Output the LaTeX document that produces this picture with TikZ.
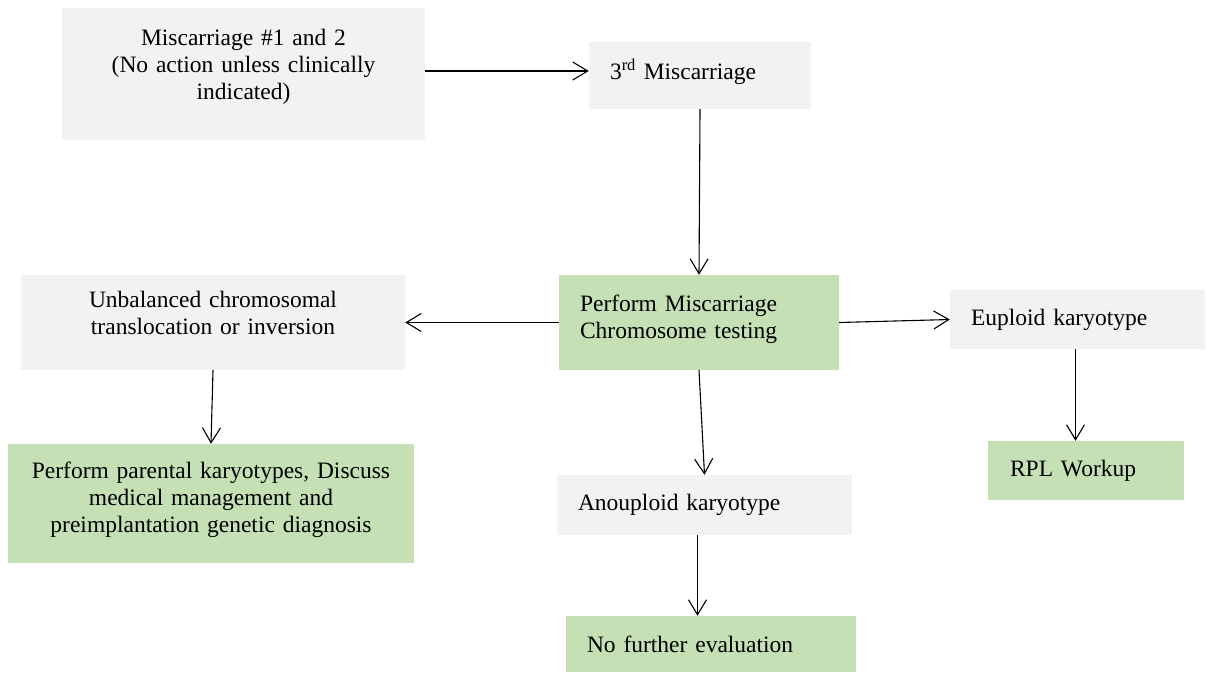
\documentclass[tikz,border=0pt]{standalone}
\usepackage{fontspec}
\setmainfont{Liberation Serif}
\usepackage{tikz}
\usetikzlibrary{arrows.meta}

\definecolor{boxgray}{HTML}{F2F2F2}
\definecolor{boxgreen}{HTML}{C5E0B4}

\begin{document}
\begin{tikzpicture}[x=1pt,y=-1pt,
		grayblock/.style={fill=boxgray,inner ysep=0pt,inner xsep=21pt,align=left,font=\fontsize{23.5}{27}\selectfont},
		greenblock/.style={grayblock,fill=boxgreen},
		flow/.style={-{Straight Barb[length=15pt,width=18pt]},line width=1.1pt}]
			\useasboundingbox (0,0) rectangle (1206,673);
			\node[grayblock,align=center,text width=321pt,minimum height=132pt] (first) at (243.5,74) {Miscarriage \#1 and 2\\(No action unless clinically\\indicated)\rule[-19pt]{0pt}{19pt}};
			\node[grayblock,text width=180pt,minimum height=67pt] (third) at (700,75.5) {3\textsuperscript{rd} Miscarriage\rule[-13pt]{0pt}{13pt}};
			\node[greenblock,text width=238pt,minimum height=95pt] (test) at (699,322.5) {Perform Miscarriage\\Chromosome testing\rule[-12pt]{0pt}{12pt}};
			\node[grayblock,align=center,text width=342pt,minimum height=95pt] (unbal) at (213,322.5) {Unbalanced chromosomal\\translocation or inversion\rule[-20pt]{0pt}{20pt}};
			\node[grayblock,text width=213pt,minimum height=59pt] (euploid) at (1077.5,319.5) {Euploid karyotype};
			\node[greenblock,align=center,inner xsep=8pt,text width=390pt,minimum height=119pt] (parental) at (211,503.5) {Perform parental karyotypes, Discuss\\medical management and\\preimplantation genetic diagnosis\rule[-13pt]{0pt}{13pt}};
			\node[grayblock,text width=253pt,minimum height=60pt] (aneu) at (704.5,505) {Anouploid karyotype};
			\node[greenblock,inner xsep=22pt,text width=152pt,minimum height=59pt] (rpl) at (1086,470.5) {RPL Workup};
			\node[greenblock,text width=248pt,minimum height=56pt] (nofurther) at (711,644) {No further evaluation};
			% arrows between the blocks
			\draw[flow] ([yshift=3pt]first.east) -- ([yshift=3pt]first.east -| third.west);
			\draw[flow] (third.south) -- (test.north);
			\draw[flow] (test.west) -- (unbal.east);
			\draw[flow] (test.east) -- (euploid.west);
			\draw[flow] (test.south) -- (aneu.north);
			\draw[flow] (unbal.south) -- (parental.north);
			\draw[flow] ([xshift=-2pt]euploid.south) -- ([xshift=-2pt]euploid.south |- rpl.north);
			\draw[flow] ([xshift=-7pt]aneu.south) -- ([xshift=-7pt]aneu.south |- nofurther.north);
		\end{tikzpicture}
\end{document}
